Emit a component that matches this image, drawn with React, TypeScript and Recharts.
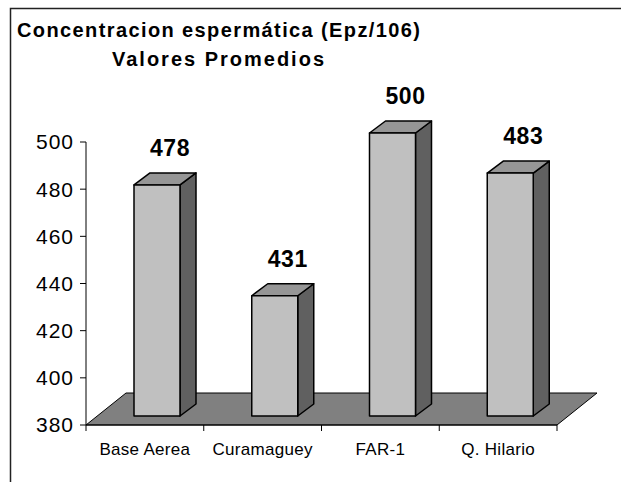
import React from "react";
import { BarChart, Bar, XAxis, YAxis, ReferenceArea, LabelList } from "recharts";

// datos
const categories = ["Base Aerea", "Curamaguey", "FAR-1", "Q. Hilario"];
const values = [478, 431, 500, 483];
const yTicks = [380, 400, 420, 440, 460, 480, 500];

const titleLine1 = "Concentracion espermática (Epz/106)";
const titleLine2 = "Valores Promedios";

const data = categories.map((name, i) => ({ name, value: values[i] }));

const FONT = "Arial, 'Liberation Sans', sans-serif";

// 3D offsets
const FACE_DX = 12;
const FACE_DY = -9;
const DEPTH_DX = 16;
const DEPTH_DY = -12;
const FLOOR_DX = 40;
const FLOOR_DY = -32;

if (typeof document !== "undefined") document.body.style.margin = "0";

function Bar3D(props: any) {
  const { x, y, width, height } = props;
  if (x == null || y == null) return null;
  const fx = x + FACE_DX;
  const fy = y + FACE_DY;
  const w = width;
  const h = height;
  const top = `${fx},${fy} ${fx + DEPTH_DX},${fy + DEPTH_DY} ${fx + w + DEPTH_DX},${fy + DEPTH_DY} ${fx + w},${fy}`;
  const side = `${fx + w},${fy} ${fx + w + DEPTH_DX},${fy + DEPTH_DY} ${fx + w + DEPTH_DX},${fy + h + DEPTH_DY} ${fx + w},${fy + h}`;
  return (
    <g stroke="#000" strokeWidth={1.5} strokeLinejoin="round">
      <polygon points={side} fill="#606060" />
      <polygon points={top} fill="#969696" />
      <rect x={fx} y={fy} width={w} height={h} fill="#c0c0c0" />
    </g>
  );
}

function Floor(props: any) {
  const { x, y, width, height } = props;
  if (x == null) return null;
  const b = y + height;
  const pts = `${x},${b} ${x + width},${b} ${x + width + FLOOR_DX},${b + FLOOR_DY} ${x + FLOOR_DX},${b + FLOOR_DY}`;
  return <polygon points={pts} fill="#808080" stroke="#000" strokeWidth={1} />;
}

function ValueLabel(props: any) {
  const { x, y, width, value } = props;
  if (x == null) return null;
  return (
    <text
      x={x + width / 2 + FACE_DX + 13}
      y={y + FACE_DY - 29}
      textAnchor="middle"
      fontFamily={FONT}
      fontWeight="bold"
      fontSize={23}
      letterSpacing={0.5}
      fill="#000"
    >
      {value}
    </text>
  );
}

function XTick(props: any) {
  const { x, y, payload, index } = props;
  const half = payload?.offset ?? 58.9;
  const axisY = y - 6;
  return (
    <g>
      <line x1={x - half} y1={axisY} x2={x - half} y2={axisY + 6} stroke="#000" />
      {index === categories.length - 1 && (
        <line x1={x + half} y1={axisY} x2={x + half} y2={axisY + 6} stroke="#000" />
      )}
      <text x={x} y={axisY + 30} textAnchor="middle" fontFamily={FONT} fontSize={17} letterSpacing={0.3} fill="#000">
        {payload.value}
      </text>
    </g>
  );
}

function YTick(props: any) {
  const { x, y, payload } = props;
  return (
    <text x={x} y={y} dy="0.355em" textAnchor="end" fontFamily={FONT} fontSize={21} letterSpacing={1} fill="#000">
      {payload.value}
    </text>
  );
}

export default function App() {
  return (
    <div style={{ position: "relative", width: 621, height: 482, background: "#fff", overflow: "hidden" }}>
      <BarChart
        width={621}
        height={482}
        data={data}
        margin={{ top: 142, right: 64, bottom: 17, left: 0 }}
      >
        <ReferenceArea y1={380} y2={390} shape={<Floor />} ifOverflow="visible" />
        <XAxis
          dataKey="name"
          height={40}
          stroke="#000"
          tickLine={false}
          tickSize={6}
          tickMargin={0}
          tick={<XTick />}
          interval={0}
        />
        <YAxis
          width={86}
          domain={[380, 500]}
          ticks={yTicks}
          stroke="#000"
          tickSize={6}
          tickMargin={6}
          tick={<YTick />}
          interval={0}
        />
        <Bar dataKey="value" barSize={46} shape={<Bar3D />} isAnimationActive={false}>
          <LabelList dataKey="value" content={<ValueLabel />} />
        </Bar>
      </BarChart>
      <svg width={621} height={482} style={{ position: "absolute", left: 0, top: 0, pointerEvents: "none" }}>
        <polyline points="10.5,482 10.5,8.5 621,8.5" fill="none" stroke="#222" strokeWidth={1.5} />
        <text x={17} y={37} fontFamily={FONT} fontWeight="bold" fontSize={20} textLength={403} lengthAdjust="spacing" fill="#000">
          {titleLine1}
        </text>
        <text x={112} y={66} fontFamily={FONT} fontWeight="bold" fontSize={20} textLength={212} lengthAdjust="spacing" fill="#000">
          {titleLine2}
        </text>
      </svg>
    </div>
  );
}
